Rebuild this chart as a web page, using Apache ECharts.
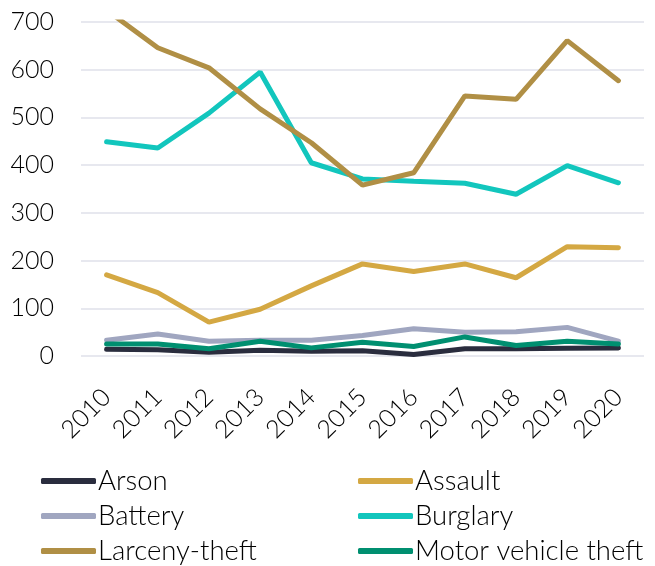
<!DOCTYPE html>
<html>
<head>
<meta charset="utf-8">
<script src="https://cdn.jsdelivr.net/npm/echarts@6/dist/echarts.min.js"></script>
<style>
  html, body { margin: 0; padding: 0; background: #fff; }
  #main { width: 655px; height: 566px; }
</style>
</head>
<body>
<div id="main"></div>
<script>
// 数据
var years = ['2010', '2011', '2012', '2013', '2014', '2015', '2016', '2017', '2018', '2019', '2020'];
var arson = [14, 13, 8, 12, 10, 11, 3, 15, 15, 16, 17];
var assault = [170, 133, 71, 98, 147, 193, 177, 193, 164, 229, 227];
var battery = [33, 46, 31, 33, 33, 43, 57, 50, 51, 60, 31];
var burglary = [449, 436, 509, 595, 405, 371, 366, 362, 339, 399, 363];
var larceny = [725, 646, 604, 518, 447, 358, 384, 545, 538, 661, 577];
var motor = [25, 25, 15, 31, 17, 29, 20, 40, 22, 31, 25];

var font = 'Lato, "Open Sans", sans-serif';

function line(name, data, color) {
    return {
        name: name,
        type: 'line',
        data: data,
        symbol: 'none',
        lineStyle: { color: color, width: 5, cap: 'round' },
        itemStyle: { color: color }
    };
}

var legendBase = {
    orient: 'vertical',
    top: 467,
    padding: 0,
    itemWidth: 55,
    itemHeight: 6,
    itemGap: 7,
    icon: 'roundRect',
    textStyle: { fontSize: 27.5, lineHeight: 28, fontWeight: 300, color: '#000', fontFamily: font, padding: [0, 0, 0, -3] }
};

var chart = echarts.init(document.getElementById('main'));
chart.setOption({
    animation: false,
    grid: { left: 81, right: 11, top: 22, bottom: 210 },
    legend: [
        Object.assign({ left: 41, data: ['Arson', 'Battery', 'Larceny-theft'] }, legendBase),
        Object.assign({ left: 358, data: ['Assault', 'Burglary', 'Motor vehicle theft'] }, legendBase)
    ],
    xAxis: {
        type: 'category',
        data: years,
        boundaryGap: true,
        axisLine: { show: false },
        axisTick: { show: false },
        axisLabel: { rotate: 45, fontSize: 25, fontWeight: 300, color: '#000', fontFamily: font, margin: 37 }
    },
    yAxis: {
        type: 'value',
        min: 0,
        max: 700,
        interval: 100,
        axisLine: { show: false },
        axisTick: { show: false },
        splitLine: { lineStyle: { color: '#dfe1ea', width: 1.5 } },
        axisLabel: { fontSize: 25, fontWeight: 300, color: '#000', fontFamily: font, margin: 27 }
    },
    series: [
        line('Arson', arson, '#2a2d3e'),
        line('Assault', assault, '#d4a843'),
        line('Battery', battery, '#a0a6c0'),
        line('Burglary', burglary, '#12c6bd'),
        line('Larceny-theft', larceny, '#b08f45'),
        line('Motor vehicle theft', motor, '#008f70')
    ]
});
</script>
</body>
</html>
